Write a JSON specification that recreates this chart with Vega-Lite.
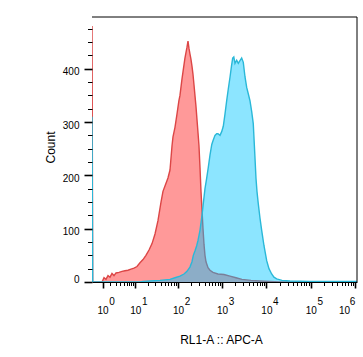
{
  "$schema": "https://vega.github.io/schema/vega-lite/v6.json",
  "autosize": {"type": "none"},
  "padding": {"left": 92, "top": 17, "right": 6, "bottom": 75},
  "width": 265,
  "height": 265,
  "background": "white",
  "datasets": {
    "red": [
      {"x": 0.157, "count": 480}, {"x": 0.2, "count": 0}, {"x": 0.95, "count": 0},
      {"x": 1.16, "count": 8}, {"x": 1.39, "count": 5}, {"x": 1.66, "count": 12}, {"x": 1.95, "count": 9},
      {"x": 2.27, "count": 16}, {"x": 2.63, "count": 12}, {"x": 3.03, "count": 17}, {"x": 3.71, "count": 18},
      {"x": 4.5, "count": 20}, {"x": 5.43, "count": 21}, {"x": 6.51, "count": 22}, {"x": 7.78, "count": 24},
      {"x": 9.26, "count": 26}, {"x": 11, "count": 29}, {"x": 13, "count": 36}, {"x": 15.4, "count": 42},
      {"x": 18.1, "count": 50}, {"x": 21.4, "count": 60}, {"x": 25.2, "count": 72}, {"x": 29.6, "count": 90},
      {"x": 34.7, "count": 115}, {"x": 40.8, "count": 150}, {"x": 45.3, "count": 170}, {"x": 50.4, "count": 180},
      {"x": 59, "count": 195}, {"x": 65.7, "count": 210}, {"x": 73, "count": 255}, {"x": 76.9, "count": 272},
      {"x": 85.4, "count": 290}, {"x": 94.9, "count": 315}, {"x": 105, "count": 340}, {"x": 111, "count": 350},
      {"x": 123, "count": 380}, {"x": 130, "count": 394}, {"x": 144, "count": 420}, {"x": 160, "count": 440},
      {"x": 169, "count": 452}, {"x": 178, "count": 438}, {"x": 187, "count": 428}, {"x": 197, "count": 418},
      {"x": 208, "count": 405}, {"x": 219, "count": 390}, {"x": 231, "count": 370}, {"x": 243, "count": 350},
      {"x": 256, "count": 330}, {"x": 270, "count": 305}, {"x": 285, "count": 280}, {"x": 300, "count": 255},
      {"x": 316, "count": 215}, {"x": 333, "count": 170}, {"x": 351, "count": 135}, {"x": 370, "count": 100},
      {"x": 390, "count": 70}, {"x": 410, "count": 50}, {"x": 432, "count": 38}, {"x": 480, "count": 27},
      {"x": 532, "count": 22}, {"x": 622, "count": 18}, {"x": 806, "count": 15}, {"x": 1102, "count": 14},
      {"x": 1507, "count": 11}, {"x": 2058, "count": 8}, {"x": 2811, "count": 5}, {"x": 4488, "count": 3},
      {"x": 7163, "count": 2}, {"x": 12045, "count": 1}, {"x": 20260, "count": 0}, {"x": 1110000, "count": 0}
    ],
    "cyan": [
      {"x": 0.157, "count": 310}, {"x": 0.2, "count": 0}, {"x": 13, "count": 0}, {"x": 15.4, "count": 1},
      {"x": 22.6, "count": 2}, {"x": 38.6, "count": 3}, {"x": 65.7, "count": 5}, {"x": 85.4, "count": 8},
      {"x": 111, "count": 11}, {"x": 137, "count": 15}, {"x": 160, "count": 20}, {"x": 187, "count": 28},
      {"x": 208, "count": 38}, {"x": 223, "count": 50}, {"x": 243, "count": 58}, {"x": 266, "count": 68},
      {"x": 285, "count": 78}, {"x": 316, "count": 97}, {"x": 351, "count": 125}, {"x": 375, "count": 147},
      {"x": 410, "count": 175}, {"x": 448, "count": 195}, {"x": 487, "count": 215}, {"x": 532, "count": 238},
      {"x": 584, "count": 258}, {"x": 622, "count": 265}, {"x": 690, "count": 275}, {"x": 754, "count": 278},
      {"x": 806, "count": 278}, {"x": 896, "count": 275}, {"x": 978, "count": 282}, {"x": 1063, "count": 292},
      {"x": 1161, "count": 315}, {"x": 1269, "count": 340}, {"x": 1379, "count": 362}, {"x": 1507, "count": 384},
      {"x": 1628, "count": 405}, {"x": 1733, "count": 420}, {"x": 1836, "count": 422}, {"x": 1953, "count": 410},
      {"x": 2133, "count": 416}, {"x": 2320, "count": 410}, {"x": 2534, "count": 415}, {"x": 2766, "count": 420},
      {"x": 3009, "count": 412}, {"x": 3285, "count": 385}, {"x": 3589, "count": 365}, {"x": 3899, "count": 353},
      {"x": 4257, "count": 340}, {"x": 4649, "count": 320}, {"x": 5054, "count": 297}, {"x": 5517, "count": 234},
      {"x": 5816, "count": 195}, {"x": 6128, "count": 170}, {"x": 6554, "count": 147}, {"x": 7163, "count": 120},
      {"x": 7829, "count": 97}, {"x": 8822, "count": 68}, {"x": 10154, "count": 40}, {"x": 11432, "count": 25},
      {"x": 13150, "count": 15}, {"x": 14830, "count": 9}, {"x": 17060, "count": 6}, {"x": 22500, "count": 3},
      {"x": 34070, "count": 2}, {"x": 96400, "count": 1}, {"x": 1110000, "count": 1}
    ],
    "frame": [{"xmax": 1110000, "ymax": 497}]
  },
  "layer": [
    {
      "data": {"name": "red"},
      "mark": {"type": "area", "color": "#ff0000", "fillOpacity": 0.4, "clip": true, "interpolate": "linear",
               "line": {"color": "#dc4646", "strokeWidth": 1.4, "opacity": 1, "clip": true}},
      "encoding": {
        "x": {
          "field": "x", "type": "quantitative",
          "scale": {"type": "symlog", "constant": 1, "domain": [0.157, 1110000], "nice": false, "zero": false},
          "axis": {
            "orient": "bottom",
            "title": "RL1-A :: APC-A",
            "titleFontSize": 12,
            "titleX": 129,
            "titleY": 61,
            "titleBaseline": "alphabetic",
            "values": [1,2,3,4,5,6,7,8,9,10,20,30,40,50,60,70,80,90,100,200,300,400,500,600,700,800,900,1000,2000,3000,4000,5000,6000,7000,8000,9000,10000,20000,30000,40000,50000,60000,70000,80000,90000,100000,200000,300000,400000,500000,600000,700000,800000,900000,1000000],
            "labelExpr": "indexof([1,10,100,1000,10000,100000,1000000], datum.value) >= 0 ? '10' : ''",
            "labelFontSize": 10,
            "labelBaseline": "top",
            "labelAlign": "center",
            "labelPadding": 17,
            "labelOverlap": false,
            "labelBound": false,
            "labelFlush": false,
            "labelOffset": {"condition": {"test": "datum.value === 1000000", "value": -11}, "value": 0},
            "tickColor": "#000000",
            "tickSize": {"condition": {"test": "indexof([1,10,100,1000,10000,100000,1000000], datum.value) >= 0", "value": 6}, "value": 3.5},
            "tickWidth": {"condition": {"test": "indexof([1,10,100,1000,10000,100000,1000000], datum.value) >= 0", "value": 1.6}, "value": 1}
          }
        },
        "y": {
          "field": "count", "type": "quantitative",
          "scale": {"domain": [0, 497], "nice": false},
          "axis": {
            "title": "Count",
            "titleFontSize": 12,
            "titleX": -42,
            "titleY": 130,
            "titleBaseline": "middle",
            "domain": false,
            "zindex": 2,
            "values": [0,25,50,75,100,125,150,175,200,225,250,275,300,325,350,375,400,425,450,475],
            "labelExpr": "datum.value % 100 === 0 ? datum.label : ''",
            "labelFontSize": 10,
            "labelPadding": 5,
            "labelOverlap": false,
            "labelFlush": false,
            "labelOffset": {"condition": {"test": "datum.value === 0", "value": -3}, "value": 3},
            "tickColor": "#000000",
            "tickSize": {"condition": {"test": "datum.value % 100 === 0", "value": 8}, "value": 4.5},
            "tickWidth": {"condition": {"test": "datum.value % 100 === 0", "value": 1.6}, "value": 1}
          }
        }
      }
    },
    {
      "data": {"name": "cyan"},
      "mark": {"type": "area", "color": "#00c6ff", "fillOpacity": 0.45, "clip": true, "interpolate": "linear",
               "line": {"color": "#2ab8d8", "strokeWidth": 1.4, "opacity": 1, "clip": true}},
      "encoding": {
        "x": {
          "field": "x", "type": "quantitative",
          "scale": {"type": "symlog", "constant": 1, "domain": [0.157, 1110000], "nice": false, "zero": false},
          "axis": {
            "orient": "bottom",
            "title": null,
            "domain": false,
            "ticks": false,
            "values": [1,10,100,1000,10000,100000,1000000],
            "labelExpr": "'' + round(log(datum.value)/LN10)",
            "labelFontSize": 10,
            "labelBaseline": "top",
            "labelAlign": "center",
            "labelPadding": 14,
            "labelOverlap": false,
            "labelBound": false,
            "labelFlush": false,
            "labelOffset": {"condition": {"test": "datum.value === 1000000", "value": -3}, "value": 9}
          }
        },
        "y": {
          "field": "count", "type": "quantitative",
          "scale": {"domain": [0, 497], "nice": false},
          "axis": null
        }
      }
    },
    {
      "data": {"name": "frame"},
      "mark": {"type": "rule", "color": "#000000", "strokeWidth": 1},
      "encoding": {
        "y": {"field": "ymax", "type": "quantitative", "scale": {"domain": [0, 497], "nice": false}, "axis": null}
      }
    },
    {
      "data": {"name": "frame"},
      "mark": {"type": "rule", "color": "#000000", "strokeWidth": 1},
      "encoding": {
        "x": {"field": "xmax", "type": "quantitative", "scale": {"type": "symlog", "constant": 1, "domain": [0.157, 1110000], "nice": false, "zero": false}, "axis": null}
      }
    }
  ],
  "resolve": {"axis": {"x": "independent", "y": "independent"}},
  "config": {
    "font": "Liberation Sans",
    "view": {"stroke": null},
    "axis": {
      "grid": false,
      "labelFont": "Liberation Sans",
      "titleFont": "Liberation Sans",
      "labelColor": "#000000",
      "titleColor": "#000000",
      "tickColor": "#000000",
      "domainColor": "#000000",
      "domainWidth": 1,
      "titleFontWeight": "normal"
    }
  }
}
